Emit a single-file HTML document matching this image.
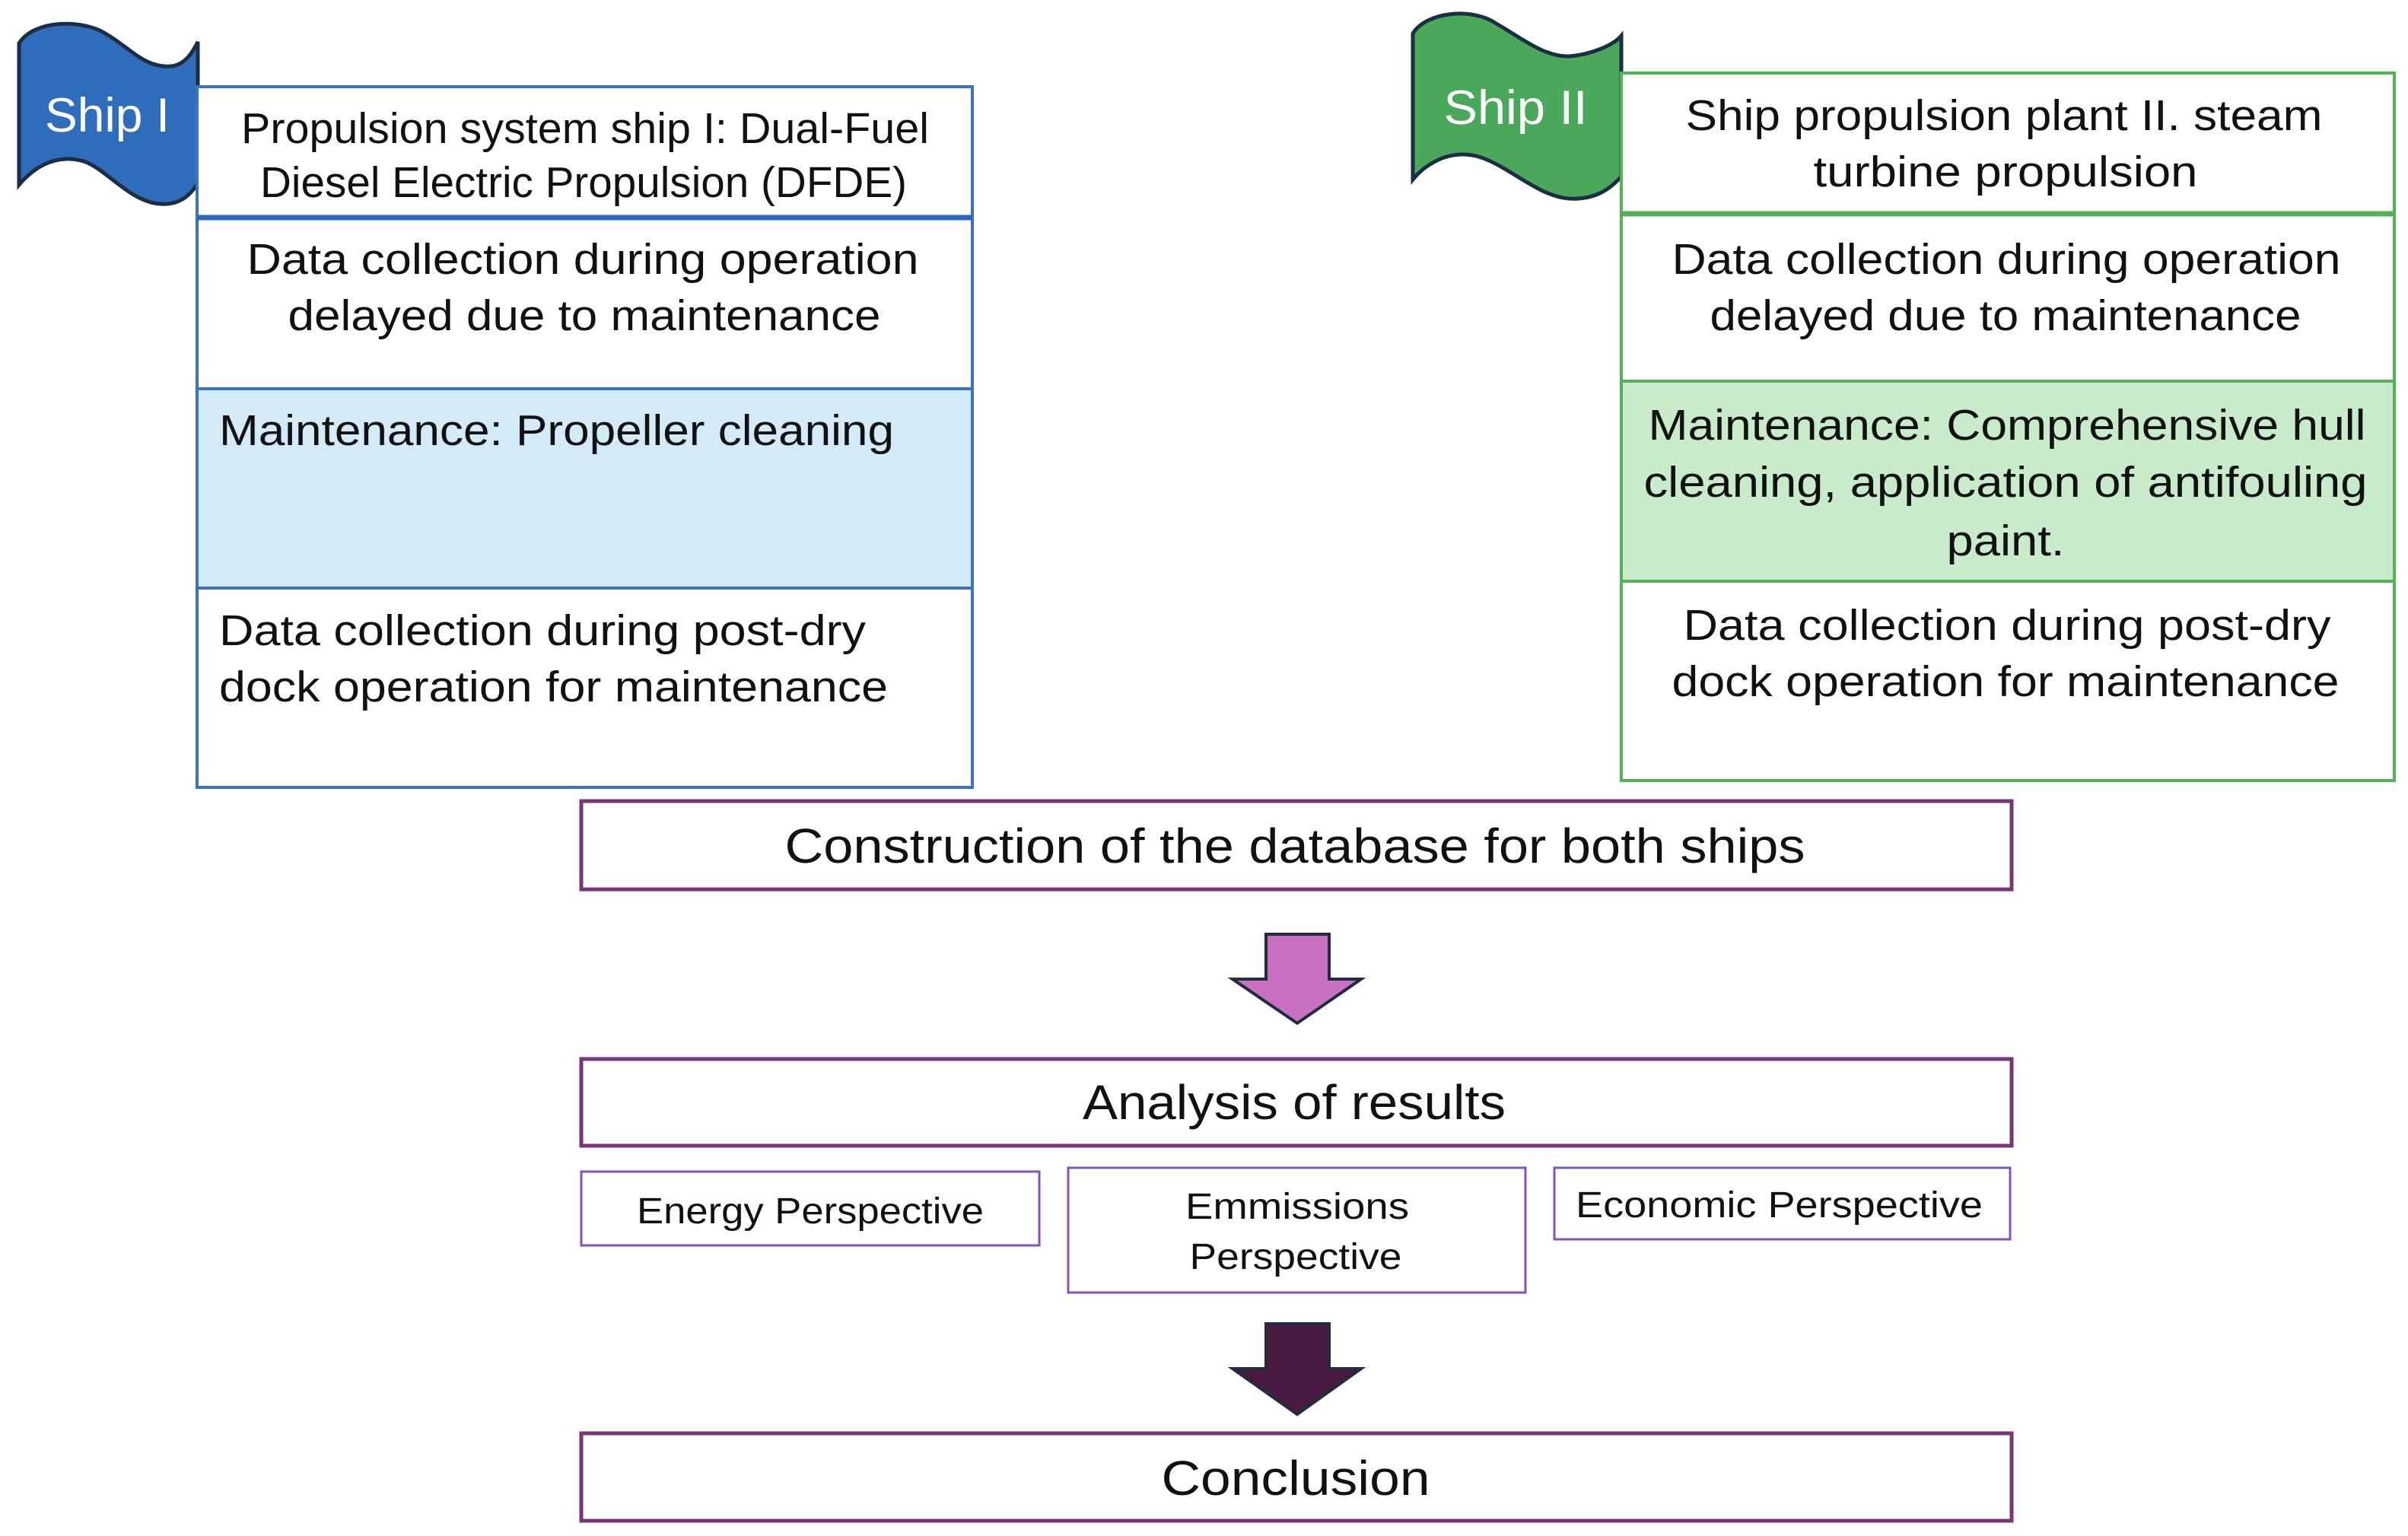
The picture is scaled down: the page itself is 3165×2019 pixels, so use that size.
<!DOCTYPE html>
<html><head><meta charset="utf-8"><style>
html,body{margin:0;padding:0;background:#fff}
svg{display:block}
text{font-family:"Liberation Sans",sans-serif;fill:#111}
</style></head><body>
<svg width="3165" height="2019" viewBox="0 0 3165 2019" xmlns="http://www.w3.org/2000/svg">
<rect width="3165" height="2019" fill="#fff"/>
<!-- Ship I flag -->
<path d="M25,57 C45,25 110,25 140,45 C170,62 190,90 225,87 C245,85 255,65 260,55 L260,240 C250,258 235,270 210,268 C170,265 140,222 110,212 C70,200 40,225 25,243 Z" fill="#2e6dbb" stroke="#1b2e44" stroke-width="5"/>
<text x="141" y="173" font-size="63" fill="#fff" style="fill:#fff" text-anchor="middle" textLength="164" lengthAdjust="spacingAndGlyphs">Ship I</text>
<!-- Ship I box -->
<rect x="259" y="114" width="1019" height="921" fill="#fff" stroke="#3a72c4" stroke-width="4"/>
<rect x="259" y="511" width="1019" height="262" fill="#d2ebf7" stroke="#3a72c4" stroke-width="4"/>
<line x1="259" y1="286" x2="1278" y2="286" stroke="#2f68b8" stroke-width="7"/>
<text x="769" y="188" font-size="57" text-anchor="middle" textLength="904" lengthAdjust="spacingAndGlyphs">Propulsion system ship I: Dual-Fuel</text>
<text x="767" y="259" font-size="57" text-anchor="middle" textLength="850" lengthAdjust="spacingAndGlyphs">Diesel Electric Propulsion (DFDE)</text>
<text x="766" y="360" font-size="57" text-anchor="middle" textLength="883" lengthAdjust="spacingAndGlyphs">Data collection during operation</text>
<text x="768" y="434" font-size="57" text-anchor="middle" textLength="779" lengthAdjust="spacingAndGlyphs">delayed due to maintenance</text>
<text x="288" y="585" font-size="57" textLength="887" lengthAdjust="spacingAndGlyphs">Maintenance: Propeller cleaning</text>
<text x="288" y="848" font-size="57" textLength="850" lengthAdjust="spacingAndGlyphs">Data collection during post-dry</text>
<text x="288" y="922" font-size="57" textLength="879" lengthAdjust="spacingAndGlyphs">dock operation for maintenance</text>
<!-- Ship II flag -->
<path d="M1857,44 C1875,15 1935,10 1965,30 C2000,50 2030,75 2062,74 C2090,72 2120,60 2131,47 L2131,232 C2115,250 2095,263 2062,261 C2020,258 1980,215 1940,205 C1900,196 1870,220 1857,236 Z" fill="#4aa85a" stroke="#1b2e44" stroke-width="5"/>
<text x="1992" y="163" font-size="63" style="fill:#fff" text-anchor="middle" textLength="189" lengthAdjust="spacingAndGlyphs">Ship II</text>
<!-- Ship II box -->
<rect x="2131" y="96" width="1016" height="930" fill="#fff" stroke="#52b257" stroke-width="4"/>
<rect x="2131" y="501" width="1016" height="263" fill="#c8ecc9" stroke="#52b257" stroke-width="4"/>
<line x1="2131" y1="281" x2="3147" y2="281" stroke="#52b257" stroke-width="7"/>
<text x="2634" y="171" font-size="57" text-anchor="middle" textLength="837" lengthAdjust="spacingAndGlyphs">Ship propulsion plant II. steam</text>
<text x="2636" y="245" font-size="57" text-anchor="middle" textLength="505" lengthAdjust="spacingAndGlyphs">turbine propulsion</text>
<text x="2637" y="360" font-size="57" text-anchor="middle" textLength="879" lengthAdjust="spacingAndGlyphs">Data collection during operation</text>
<text x="2636" y="434" font-size="57" text-anchor="middle" textLength="777" lengthAdjust="spacingAndGlyphs">delayed due to maintenance</text>
<text x="2638" y="578" font-size="57" text-anchor="middle" textLength="943" lengthAdjust="spacingAndGlyphs">Maintenance: Comprehensive hull</text>
<text x="2636" y="653" font-size="57" text-anchor="middle" textLength="951" lengthAdjust="spacingAndGlyphs">cleaning, application of antifouling</text>
<text x="2636" y="730" font-size="57" text-anchor="middle" textLength="155" lengthAdjust="spacingAndGlyphs">paint.</text>
<text x="2638" y="841" font-size="57" text-anchor="middle" textLength="851" lengthAdjust="spacingAndGlyphs">Data collection during post-dry</text>
<text x="2636" y="915" font-size="57" text-anchor="middle" textLength="877" lengthAdjust="spacingAndGlyphs">dock operation for maintenance</text>
<!-- Construction -->
<rect x="764" y="1053" width="1880" height="116" fill="#fff" stroke="#7a3576" stroke-width="5"/>
<text x="1702" y="1134" font-size="64" text-anchor="middle" textLength="1341" lengthAdjust="spacingAndGlyphs">Construction of the database for both ships</text>
<!-- Arrow 1 -->
<path d="M1664,1228 L1747,1228 L1747,1287 L1789,1287 L1705,1345 L1620,1287 L1664,1287 Z" fill="#c870c2" stroke="#1f2d3d" stroke-width="4"/>
<!-- Analysis -->
<rect x="764" y="1392" width="1880" height="114" fill="#fff" stroke="#7a3576" stroke-width="5"/>
<text x="1701" y="1471" font-size="64" text-anchor="middle" textLength="556" lengthAdjust="spacingAndGlyphs">Analysis of results</text>
<!-- Perspectives -->
<rect x="764" y="1540" width="602" height="97" fill="#fff" stroke="#7e55c4" stroke-width="3"/>
<text x="1065" y="1608" font-size="48" text-anchor="middle" textLength="456" lengthAdjust="spacingAndGlyphs">Energy Perspective</text>
<rect x="1404" y="1535" width="601" height="164" fill="#fff" stroke="#7e55c4" stroke-width="3"/>
<text x="1705" y="1602" font-size="48" text-anchor="middle" textLength="294" lengthAdjust="spacingAndGlyphs">Emmissions</text>
<text x="1703" y="1668" font-size="48" text-anchor="middle" textLength="279" lengthAdjust="spacingAndGlyphs">Perspective</text>
<rect x="2043" y="1535" width="599" height="94" fill="#fff" stroke="#7e55c4" stroke-width="3"/>
<text x="2071" y="1600" font-size="48" textLength="535" lengthAdjust="spacingAndGlyphs">Economic Perspective</text>
<!-- Arrow 2 -->
<path d="M1664,1740 L1747,1740 L1747,1799 L1789,1799 L1705,1859 L1620,1799 L1664,1799 Z" fill="#4a1942" stroke="#1f2d3d" stroke-width="4"/>
<!-- Conclusion -->
<rect x="764" y="1884" width="1880" height="115" fill="#fff" stroke="#7a3576" stroke-width="5"/>
<text x="1703" y="1965" font-size="64" text-anchor="middle" textLength="353" lengthAdjust="spacingAndGlyphs">Conclusion</text>
</svg>
</body></html>
